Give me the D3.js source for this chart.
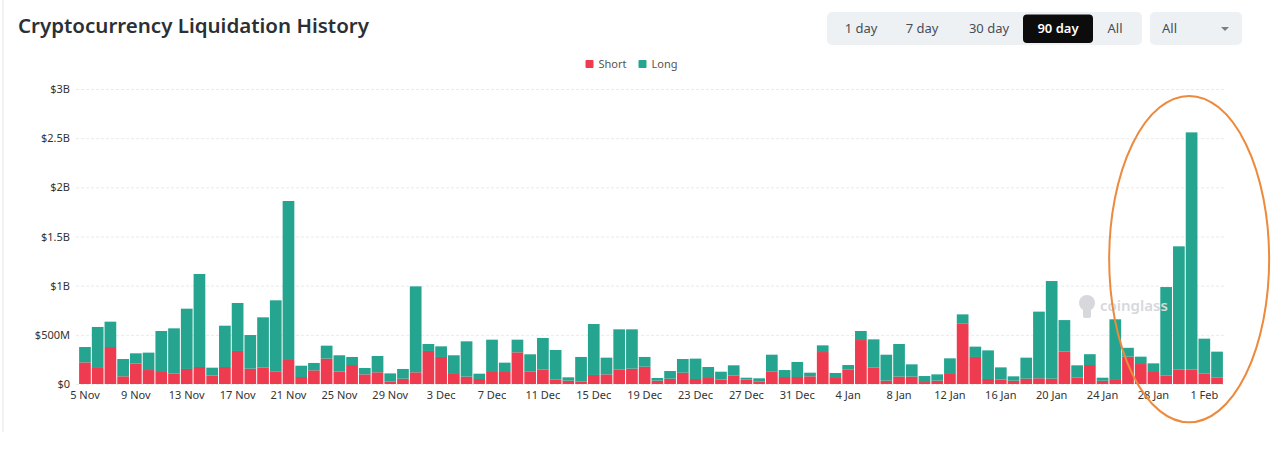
<!DOCTYPE html>
<html>
<head>
<meta charset="utf-8">
<script src="https://cdn.jsdelivr.net/npm/d3@7"></script>
<style>
  body { margin: 0; background: #fff; }
  svg { display: block; font-family: "Noto Sans", "Open Sans", sans-serif; }
</style>
</head>
<body>
<script>
// Size of the picture
var width = 1280,
    height = 454;

// Short liquidations per day, in $B (5 Nov .. 2 Feb)
var shortVals = [
  0.22, 0.163, 0.376, 0.078, 0.207, 0.142, 0.122, 0.105, 0.153, 0.173,
  0.085, 0.173, 0.336, 0.156, 0.169, 0.129, 0.244, 0.071, 0.139, 0.258,
  0.127, 0.193, 0.098, 0.119, 0.027, 0.054, 0.119, 0.336, 0.275, 0.102,
  0.075, 0.051, 0.122, 0.122, 0.322, 0.129, 0.149, 0.047, 0.034, 0.027,
  0.092, 0.098, 0.149, 0.156, 0.176, 0.034, 0.054, 0.115, 0.051, 0.061,
  0.044, 0.085, 0.044, 0.027, 0.129, 0.071, 0.071, 0.078, 0.325, 0.061,
  0.149, 0.447, 0.169, 0.034, 0.075, 0.075, 0.02, 0.034, 0.102, 0.617,
  0.275, 0.051, 0.044, 0.034, 0.054, 0.058, 0.054, 0.329, 0.064, 0.193,
  0.033, 0.041, 0.278, 0.203, 0.122, 0.088, 0.146, 0.146, 0.108, 0.064
];

// Long liquidations per day, in $B
var longVals = [
  0.156, 0.417, 0.258, 0.176, 0.105, 0.177, 0.417, 0.461, 0.613, 0.946,
  0.081, 0.42, 0.488, 0.342, 0.509, 0.722, 1.617, 0.115, 0.075, 0.132,
  0.165, 0.082, 0.065, 0.166, 0.081, 0.099, 0.874, 0.071, 0.108, 0.19,
  0.359, 0.054, 0.329, 0.095, 0.129, 0.173, 0.319, 0.299, 0.034, 0.248,
  0.518, 0.17, 0.407, 0.4, 0.099, 0.027, 0.078, 0.139, 0.207, 0.112,
  0.081, 0.105, 0.02, 0.031, 0.169, 0.071, 0.153, 0.037, 0.068, 0.051,
  0.044, 0.092, 0.285, 0.264, 0.332, 0.125, 0.061, 0.064, 0.159, 0.091,
  0.105, 0.291, 0.125, 0.044, 0.214, 0.678, 0.993, 0.321, 0.126, 0.11,
  0.031, 0.617, 0.09, 0.075, 0.088, 0.898, 1.254, 2.413, 0.353, 0.265
];

// Days shown (categories)
var days = d3.timeDay.range(new Date(2024, 10, 5), new Date(2025, 1, 3));

// Tick labels
var xTickLabels = ["5 Nov", "9 Nov", "13 Nov", "17 Nov", "21 Nov", "25 Nov", "29 Nov",
  "3 Dec", "7 Dec", "11 Dec", "15 Dec", "19 Dec", "23 Dec", "27 Dec", "31 Dec",
  "4 Jan", "8 Jan", "12 Jan", "16 Jan", "20 Jan", "24 Jan", "28 Jan", "1 Feb"];
var yTickValues = [0, 0.5, 1, 1.5, 2, 2.5, 3];
var yTickLabels = ["$0", "$500M", "$1B", "$1.5B", "$2B", "$2.5B", "$3B"];

var seriesNames = ["Short", "Long"];
var rangeButtons = ["1 day", "7 day", "30 day", "90 day", "All"];

var colors = { Short: "#ef3b4f", Long: "#25a58f" };
var fmt = d3.timeFormat("%-d %b");

var svg = d3.select("body")
    .append("svg")
    .attr("width", width)
    .attr("height", height);

// left card border
svg.append("line")
    .attr("x1", 3).attr("x2", 3)
    .attr("y1", 0).attr("y2", 432)
    .attr("stroke", "#e6e6e6");

// Title
svg.append("text")
    .attr("x", 18)
    .attr("y", 33)
    .attr("font-size", 20.5)
    .attr("font-weight", 600)
    .attr("fill", "#2b2f36")
    .text("Cryptocurrency Liquidation History");

// Range buttons
var btnG = svg.append("g");
btnG.append("rect")
    .attr("x", 827).attr("y", 12)
    .attr("width", 315).attr("height", 33)
    .attr("rx", 5)
    .attr("fill", "#eef1f4");
var btnCenters = [861, 922, 989, 1058, 1115];
btnG.append("rect")
    .attr("x", 1023).attr("y", 14.5)
    .attr("width", 70).attr("height", 28.5)
    .attr("rx", 4)
    .attr("fill", "#0c0c0c");
btnG.selectAll("text.btn")
    .data(rangeButtons)
    .enter().append("text")
        .attr("class", "btn")
        .attr("x", function(d, i) { return btnCenters[i]; })
        .attr("y", 33)
        .attr("text-anchor", "middle")
        .attr("font-size", 13)
        .attr("font-weight", function(d) { return d == "90 day" ? 600 : 400; })
        .attr("fill", function(d) { return d == "90 day" ? "#fff" : "#474d57"; })
        .text(function(d) { return d; });

// Dropdown
svg.append("rect")
    .attr("x", 1150).attr("y", 12)
    .attr("width", 92).attr("height", 33)
    .attr("rx", 5)
    .attr("fill", "#eef1f4");
svg.append("text")
    .attr("x", 1162).attr("y", 33)
    .attr("font-size", 13)
    .attr("fill", "#474d57")
    .text("All");
svg.append("path")
    .attr("d", "M1221,27 L1229,27 L1225,31 Z")
    .attr("fill", "#7a7f87");

// Scales
var x = d3.scaleBand()
    .domain(days)
    .range([78.6, 1223.4])
    .paddingInner(0.08)
    .paddingOuter(0.04);

var y = d3.scaleLinear()
    .domain([0, 3])
    .range([384, 89]);

// Grid lines + y labels
var yAxis = svg.append("g")
    .attr("transform", "translate(76,0)")
    .call(d3.axisLeft(y)
        .tickValues(yTickValues)
        .tickSize(-1150)
        .tickPadding(6)
        .tickFormat(function(d, i) { return yTickLabels[i]; }));
yAxis.select(".domain").remove();
yAxis.selectAll(".tick line")
    .attr("stroke", "#e9eaec")
    .attr("stroke-dasharray", "3,2");
yAxis.selectAll(".tick text")
    .attr("font-size", 11)
    .attr("fill", "#333")
    .attr("font-family", "Noto Sans, Open Sans, sans-serif");

// Stack data
var table = days.map(function(d, i) {
    return { day: d, Short: shortVals[i], Long: longVals[i] };
});
var stacked = d3.stack().keys(seriesNames)(table);

svg.append("g")
    .selectAll("g")
    .data(stacked)
    .enter().append("g")
        .attr("fill", function(s) { return colors[s.key]; })
    .selectAll("rect")
    .data(function(s) { return s; })
    .enter().append("rect")
        .attr("x", function(d) { return x(d.data.day); })
        .attr("width", x.bandwidth())
        .attr("y", function(d) { return y(d[1]); })
        .attr("height", function(d) { return y(d[0]) - y(d[1]); });

// X axis
var tickDays = days.filter(function(d) { return xTickLabels.indexOf(fmt(d)) >= 0; });
var xAxis = svg.append("g")
    .attr("transform", "translate(0,385)")
    .call(d3.axisBottom(x)
        .tickValues(tickDays)
        .tickSize(0)
        .tickPadding(6)
        .tickFormat(fmt));
xAxis.select(".domain").remove();
xAxis.selectAll(".tick text")
    .attr("font-size", 11)
    .attr("fill", "#333")
    .attr("font-family", "Noto Sans, Open Sans, sans-serif");

// Legend
var legend = svg.append("g")
    .attr("transform", "translate(585.5,60)");
var legendX = [0, 53];
var item = legend.selectAll("g")
    .data(seriesNames)
    .enter().append("g")
        .attr("transform", function(d, i) { return "translate(" + legendX[i] + ",0)"; });
item.append("rect")
    .attr("width", 8).attr("height", 8)
    .attr("rx", 1)
    .attr("fill", function(d) { return colors[d]; });
item.append("text")
    .attr("x", 13)
    .attr("y", 7.5)
    .attr("font-size", 11)
    .attr("fill", "#555")
    .text(function(d) { return d; });

// Watermark
var wm = svg.append("g").attr("fill", "#d6d8db");
wm.append("circle").attr("cx", 1087).attr("cy", 303).attr("r", 8);
wm.append("rect").attr("x", 1083).attr("y", 308).attr("width", 8).attr("height", 10).attr("rx", 2);
wm.append("text")
    .attr("x", 1100)
    .attr("y", 311)
    .attr("font-size", 15)
    .attr("font-weight", 600)
    .text("coinglass");

// Highlight ellipse round the last days
var hiStart = x(days[81]), hiEnd = x(days[89]) + x.bandwidth();
svg.append("ellipse")
    .attr("cx", (hiStart + hiEnd) / 2 + 23)
    .attr("cy", y(1.27))
    .attr("rx", 80)
    .attr("ry", y(0) - y(1.66))
    .attr("fill", "none")
    .attr("stroke", "#ec8a3d")
    .attr("stroke-width", 2);
</script>
</body>
</html>
